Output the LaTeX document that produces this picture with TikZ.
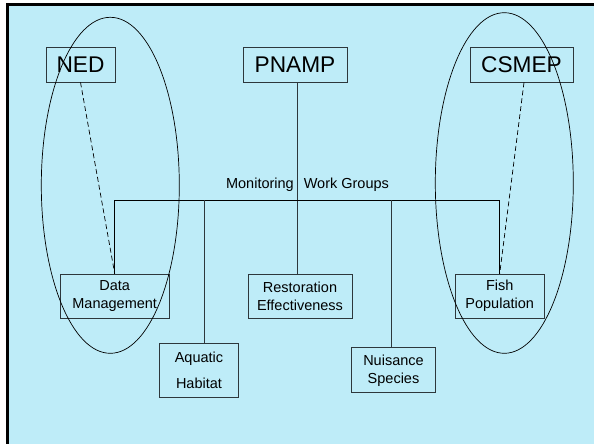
\documentclass[tikz,border=0pt]{standalone}
\usepackage{fontspec}
\setmainfont{Liberation Sans}
\usetikzlibrary{positioning}

\definecolor{slideblue}{RGB}{190,236,248}
\definecolor{boxgray}{RGB}{45,55,60}

\begin{document}
\begin{tikzpicture}[
  x=1pt, y=-1pt,
  line width=0.8pt,
  program/.style={draw=boxgray, inner sep=0pt, minimum height=35pt,
    font=\fontsize{22.7}{27}\selectfont},
  workgroup/.style={draw=boxgray, inner sep=0pt, align=center,
    font=\fontsize{14.5}{18}\selectfont},
  link/.style={draw=black, dash pattern=on 5pt off 3pt, line width=0.7pt}
]

% ------------------- Slide background ------------------- %
\useasboundingbox (0,0) rectangle (594,444);
\fill[black] (6,3) rectangle (594,444);
\fill[slideblue] (9,6) rectangle (594,444);

% ------------------- Programs on top ------------------- %
\node[program, minimum width=69pt]  (ned)   at (80.5,64.5)  {NED};
\node[program, minimum width=104pt] (pnamp) at (295,64.5)   {PNAMP};
\node[program, minimum width=103pt] (csmep) at (521.5,64.5) {CSMEP};

% ------------------- Work groups ------------------- %
\node[workgroup, minimum width=109pt, minimum height=44pt] (data) at (114.7,296) {Data\\Management};
\node[workgroup, minimum width=104pt, minimum height=44pt] (resto) at (300,296) {Restoration\\Effectiveness};
\node[workgroup, minimum width=89pt,  minimum height=44pt] (fish) at (499.7,296) {Fish\\Population};
\node[workgroup, minimum width=79pt,  minimum height=54pt] (aquatic) at (199,370) {Aquatic\\[8pt]Habitat};
\node[workgroup, minimum width=84pt,  minimum height=45pt] (nuisance) at (393.5,370.3) {Nuisance\\Species};

% Bus line under the title
\coordinate (bus) at (297,200);
\node[font=\fontsize{14.5}{18}\selectfont, anchor=base] (title) at (307.5,188) {Monitoring\hspace{10pt}Work Groups};

\draw[boxgray] ([xshift=2pt]pnamp.south) -- ([xshift=-3pt]resto.north);
\draw (data.north) -- (data.north |- bus) -- (fish.north |- bus) -- (fish.north);
\draw[boxgray] ([xshift=5pt]aquatic.north) -- ([xshift=5pt]aquatic.north |- bus);
\draw[boxgray] ([xshift=-2.5pt]nuisance.north) -- ([xshift=-2.5pt]nuisance.north |- bus);

% Dashed links from programs to their work group
\draw[link] (ned.south) -- (data.north);
\draw[link] ([xshift=2.5pt]csmep.south) -- (fish.north);

% ------------------- Circled groupings ------------------- %
\draw[line width=0.7pt] (110.3,185.3) ellipse [x radius=69pt, y radius=168pt];
\draw[line width=0.7pt] (504.3,183) ellipse [x radius=69pt, y radius=170.3pt];

\end{tikzpicture}
\end{document}
